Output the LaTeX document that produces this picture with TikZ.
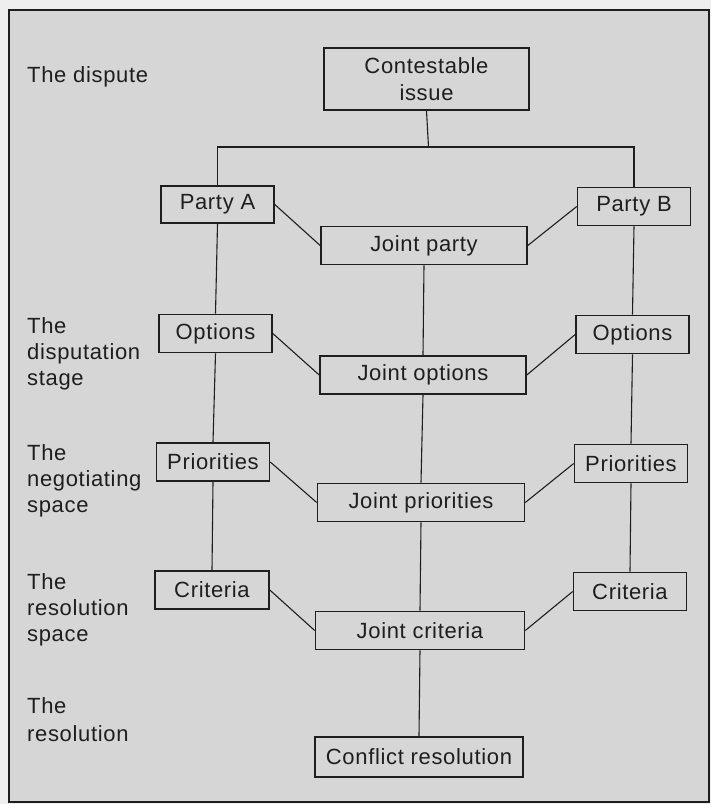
\documentclass[tikz,border=0pt]{standalone}
\usepackage{fontspec}
\setmainfont{Liberation Sans}[LetterSpace=3]
\definecolor{paper}{RGB}{214,214,214}
\definecolor{margin}{RGB}{238,238,238}
\definecolor{ink}{RGB}{30,30,30}
\begin{document}
\begin{tikzpicture}[x=1pt,y=-1pt,
  box/.style={draw=ink, line width=1.6pt, inner sep=0pt, minimum height=38pt,
              font=\fontsize{22}{27}\selectfont, text=ink},
  abox/.style={box, minimum width=113pt},
  jbox/.style={box, minimum width=206pt},
  link/.style={draw=ink, line width=1.1pt},
  stagelabel/.style={anchor=north west, inner sep=0pt, align=left, text=ink,
              font=\fontsize{22}{26}\selectfont}
]
\fill[margin] (0,0) rectangle (711,804);
\useasboundingbox (0,0) rectangle (711,804);
\draw[fill=paper, draw=ink, line width=1.6pt] (9,10) rectangle (709,802);

% stage labels
\node[stagelabel] (l1) at (27,66) {The dispute};
\node[stagelabel] (l2) at (27,317) {The\\disputation\\stage};
\node[stagelabel] (l3) at (27,444) {The\\negotiating\\space};
\node[stagelabel] (l4) at (27,573) {The\\resolution\\space};
\node[stagelabel, font=\fontsize{22}{28}\selectfont] (l5) at (27,697) {The\\resolution};

% boxes
\node[box, minimum width=205pt, minimum height=62pt, align=center] (issue) at (426.5,79) {Contestable\\issue};
\node[abox, minimum height=37pt] (pA) at (217.5,204.5) {Party A};
\node[abox] (pB) at (634,206.5) {Party B};
\node[jbox] (jP) at (424,245.5) {Joint party};

\node[abox] (oA) at (215.5,333.5) {Options};
\node[abox] (oB) at (632.5,334.5) {Options};
\node[jbox] (jO) at (423,375) {Joint options};

\node[abox] (rA) at (213,462) {Priorities};
\node[abox] (rB) at (631,463.5) {Priorities};
\node[jbox, minimum width=207pt] (jR) at (421,502.5) {Joint priorities};

\node[abox, minimum width=114pt] (cA) at (212,590) {Criteria};
\node[abox] (cB) at (630,591.5) {Criteria};
\node[jbox, minimum width=209pt] (jC) at (420,630.5) {Joint criteria};

\node[jbox, minimum width=208pt, minimum height=40pt] (res) at (419,757) {Conflict resolution};

% connectors
\coordinate (split) at (428.5,147);
\draw[link] (issue.south) -- (split);
\draw[link] (pA.north) |- (split) -| (pB.north);

\draw[link] (pA.east) -- (jP.west);
\draw[link] (pB.west) -- (jP.east);
\draw[link] (oA.east) -- (jO.west);
\draw[link] (oB.west) -- (jO.east);
\draw[link] (rA.east) -- (jR.west);
\draw[link] (rB.west) -- (jR.east);
\draw[link] (cA.east) -- (jC.west);
\draw[link] (cB.west) -- (jC.east);

\draw[link] (pA.south) -- (oA.north);
\draw[link] (oA.south) -- (rA.north);
\draw[link] (rA.south) -- (cA.north);
\draw[link] (pB.south) -- (oB.north);
\draw[link] (oB.south) -- (rB.north);
\draw[link] (rB.south) -- (cB.north);
\draw[link] (jP.south) -- (jO.north);
\draw[link] (jO.south) -- (jR.north);
\draw[link] (jR.south) -- (jC.north);
\draw[link] (jC.south) -- (res.north);
\end{tikzpicture}
\end{document}
